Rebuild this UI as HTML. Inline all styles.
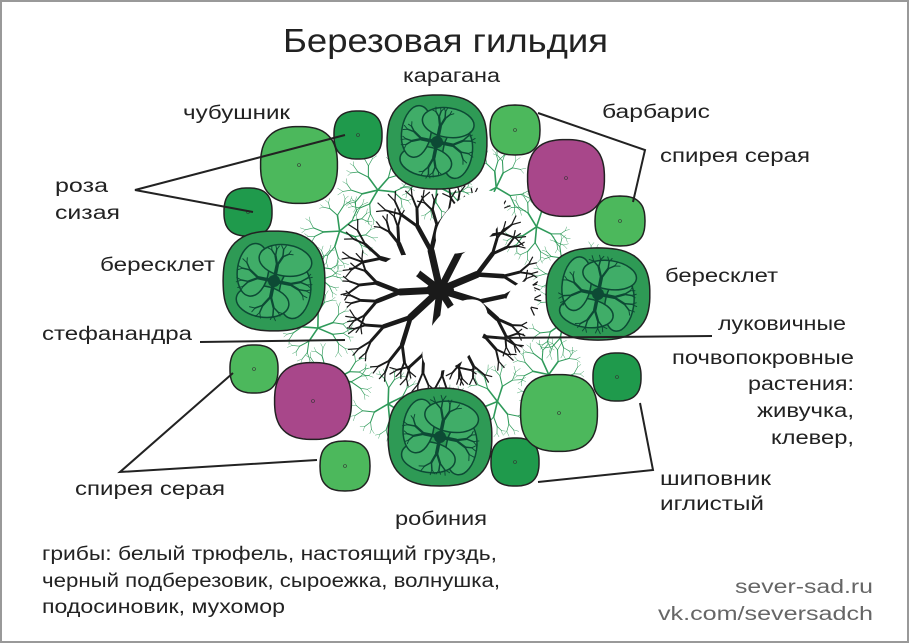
<!DOCTYPE html>
<html><head><meta charset="utf-8"><style>
html,body{margin:0;padding:0;background:#fff}
svg{display:block}
text{font-family:"Liberation Sans",sans-serif;fill:#222}
</style></head><body>
<svg id="s" width="910" height="644" viewBox="0 0 910 644" xmlns="http://www.w3.org/2000/svg">
<rect x="0" y="0" width="910" height="644" fill="#fff"/>
<rect x="1" y="1" width="907" height="641" fill="none" stroke="#999" stroke-width="2"/>
<g id="roots"></g>
<g id="birch"></g>
<g id="plants"></g>
<g stroke="#222" stroke-width="2" fill="none">
<polyline points="345,135 135,190 253,212"/>
<polyline points="538,113 645,150 633,202"/>
<line x1="200" y1="342" x2="345" y2="340"/>
<line x1="497" y1="338" x2="712" y2="336"/>
<polyline points="233,373 120,472 317,460"/>
<polyline points="538,482 653,470 640,403"/>
</g>
<g font-size="19">
<text x="283" y="52" font-size="33" textLength="325" lengthAdjust="spacingAndGlyphs">Березовая гильдия</text>
<text x="403" y="82" textLength="97" lengthAdjust="spacingAndGlyphs">карагана</text>
<text x="183" y="119" textLength="107" lengthAdjust="spacingAndGlyphs">чубушник</text>
<text x="602" y="118" textLength="108" lengthAdjust="spacingAndGlyphs">барбарис</text>
<text x="660" y="162" textLength="150" lengthAdjust="spacingAndGlyphs">спирея серая</text>
<text x="55" y="192" textLength="53" lengthAdjust="spacingAndGlyphs">роза</text>
<text x="55" y="219" textLength="65" lengthAdjust="spacingAndGlyphs">сизая</text>
<text x="100" y="271" textLength="115" lengthAdjust="spacingAndGlyphs">бересклет</text>
<text x="665" y="282" textLength="113" lengthAdjust="spacingAndGlyphs">бересклет</text>
<text x="42" y="340" textLength="150" lengthAdjust="spacingAndGlyphs">стефанандра</text>
<text x="718" y="330" textLength="128" lengthAdjust="spacingAndGlyphs">луковичные</text>
<text x="672" y="364" textLength="182" lengthAdjust="spacingAndGlyphs">почвопокровные</text>
<text x="748" y="390" textLength="106" lengthAdjust="spacingAndGlyphs">растения:</text>
<text x="757" y="417" textLength="97" lengthAdjust="spacingAndGlyphs">живучка,</text>
<text x="771" y="444" textLength="83" lengthAdjust="spacingAndGlyphs">клевер,</text>
<text x="660" y="485" textLength="111" lengthAdjust="spacingAndGlyphs">шиповник</text>
<text x="660" y="510" textLength="104" lengthAdjust="spacingAndGlyphs">иглистый</text>
<text x="75" y="495" textLength="150" lengthAdjust="spacingAndGlyphs">спирея серая</text>
<text x="395" y="525" textLength="92" lengthAdjust="spacingAndGlyphs">робиния</text>
<text x="42" y="560" textLength="455" lengthAdjust="spacingAndGlyphs">грибы: белый трюфель, настоящий груздь,</text>
<text x="42" y="587" textLength="458" lengthAdjust="spacingAndGlyphs">черный подберезовик, сыроежка, волнушка,</text>
<text x="42" y="613" textLength="243" lengthAdjust="spacingAndGlyphs">подосиновик, мухомор</text>
<text x="735" y="593" style="fill:#666" textLength="138" lengthAdjust="spacingAndGlyphs">sever-sad.ru</text>
<text x="658" y="620" style="fill:#666" textLength="215" lengthAdjust="spacingAndGlyphs">vk.com/seversadch</text>
</g>
</svg>
<script>
var NS="http://www.w3.org/2000/svg";
function el(p,t,a){var e=document.createElementNS(NS,t);for(var k in a)e.setAttribute(k,a[k]);p.appendChild(e);return e;}
var seed=7;function rnd(){seed=(seed*16807)%2147483647;return seed/2147483647;}
function blob(cx,cy,rx,ry,amp,n,ph){var d="";for(var i=0;i<=72;i++){var t=i/72*Math.PI*2;var r=1+amp*Math.cos(n*t+ph);var x=cx+rx*r*Math.cos(t),y=cy+ry*r*Math.sin(t);d+=(i?"L":"M")+x.toFixed(1)+","+y.toFixed(1);}return d+"Z";}
function branch(g,x,y,ang,len,w,depth,col,spread){
 if(depth<=0||len<2)return;
 var x2=x+Math.cos(ang)*len,y2=y+Math.sin(ang)*len;
 el(g,"line",{x1:x,y1:y,x2:x2,y2:y2,stroke:col,"stroke-width":w,"stroke-linecap":"round"});
 for(var i=0;i<2;i++){var a=ang+(i?1:-1)*spread*(0.6+rnd()*0.6);branch(g,x2,y2,a,len*(0.6+rnd()*0.15),w*0.65,depth-1,col,spread);}
}
var roots=document.getElementById("roots");
var cx=440,cy=300;
for(var i=0;i<14;i++){var a=i/14*Math.PI*2+0.2;var rr=120+(i%2)*10;
 var x=cx+Math.cos(a)*rr*1.05,y=cy+Math.sin(a)*rr*0.95;
 for(var j=0;j<5;j++){branch(roots,x,y,j/5*Math.PI*2+rnd(),16,1.6,4,"#2f9a5a",0.6);}
}
var birch=document.getElementById("birch");
for(var i=0;i<9;i++){var a=i/9*Math.PI*2+0.3;branch(birch,440,290,a,40,7,5,"#1a1a1a",0.45);}
el(birch,"ellipse",{cx:470,cy:222,rx:40,ry:24,fill:"#fff",transform:"rotate(-40 470 222)"});
el(birch,"ellipse",{cx:455,cy:335,rx:42,ry:24,fill:"#fff",transform:"rotate(-50 455 335)"});
el(birch,"ellipse",{cx:400,cy:270,rx:22,ry:14,fill:"#fff",transform:"rotate(-20 400 270)"});
el(birch,"ellipse",{cx:520,cy:300,rx:20,ry:13,fill:"#fff",transform:"rotate(-60 520 300)"});
el(birch,"ellipse",{cx:440,cy:290,rx:14,ry:8,fill:"#1a1a1a"});
var P=document.getElementById("plants");
var PH=Math.PI;
function small(x,y,r,fill){el(P,"path",{d:blob(x,y,r,r,0.04,4,PH),fill:fill,stroke:"#222","stroke-width":1.5});el(P,"circle",{cx:x,cy:y,r:1.5,fill:"none",stroke:"#333","stroke-width":0.6});}
small(299,165,40,"#4cb85c");
small(358,135,25,"#1f9a4c");
small(248,212,25,"#1f9a4c");
small(515,130,26,"#4cb85c");
small(566,178,40,"#a8478a");
small(620,221,26,"#4cb85c");
small(254,369,25,"#4cb85c");
small(313,401,40,"#a8478a");
small(345,466,26,"#4cb85c");
small(617,377,25,"#1f9a4c");
small(515,462,25,"#1f9a4c");
small(559,413,40,"#4cb85c");
function tree(x,y,rx,ry){
 el(P,"path",{d:blob(x,y,rx,ry,0.04,4,PH),fill:"#2e9a55",stroke:"#222","stroke-width":1.5});
 for(var k=0;k<4;k++){var a=k*Math.PI/2+0.5;var ex=x+Math.cos(a)*rx*0.45,ey=y+Math.sin(a)*ry*0.45;
  el(P,"ellipse",{cx:ex,cy:ey,rx:rx*0.5,ry:ry*0.3,fill:"#40ad68",stroke:"#0d4a35","stroke-width":1.5,transform:"rotate("+(a*180/Math.PI+70)+" "+ex+" "+ey+")"});}
 var g=el(P,"g",{});
 for(var k=0;k<4;k++){var a=k*Math.PI/2+0.2;branch(g,x,y,a,rx*0.3,3.5,4,"#0d4a35",0.5);}
 el(P,"circle",{cx:x,cy:y,r:6,fill:"#0d4a35"});
}
tree(437,142,52,49);
tree(274,281,53,52);
tree(598,294,54,48);
tree(440,437,54,51);
</script>
</body></html>
